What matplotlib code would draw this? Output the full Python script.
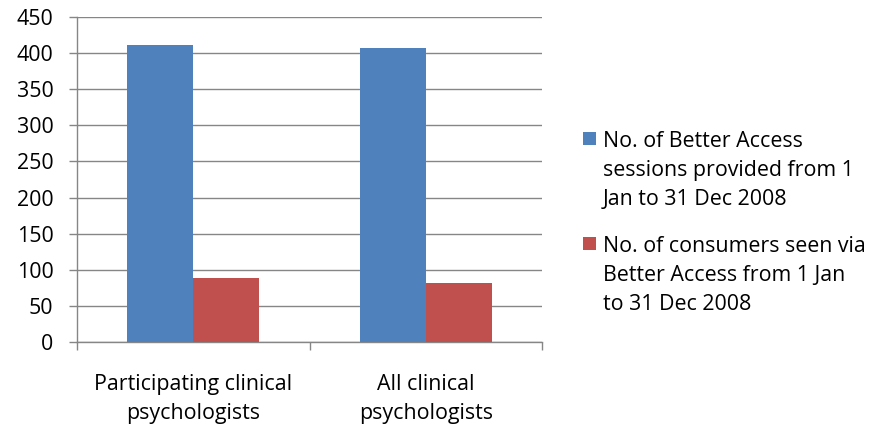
import matplotlib
matplotlib.use("Agg")
import matplotlib.pyplot as plt
from matplotlib.patches import Rectangle
import numpy as np

categories = ["Participating clinical\npsychologists", "All clinical\npsychologists"]
series_names = [
    "No. of Better Access\nsessions provided from 1\nJan to 31 Dec 2008",
    "No. of consumers seen via\nBetter Access from 1 Jan\nto 31 Dec 2008",
]
sessions = [411, 408]
consumers = [89, 81]
y_ticks = [0, 50, 100, 150, 200, 250, 300, 350, 400, 450]

colors = ["#4F81BD", "#C0504D"]
grid_color = "#868686"
FS = 15.4

plt.rcParams["font.family"] = ["Open Sans", "DejaVu Sans"]

W, H = 875, 429
fig = plt.figure(figsize=(W / 100, H / 100), dpi=100)
ax = fig.add_axes([77 / W, 1 - 341.7 / H, 465 / W, 324.4 / H])

x = np.arange(len(categories))
w = 0.284
ax.bar(x - w / 2, sessions, width=w, color=colors[0], zorder=3)
ax.bar(x + w / 2, consumers, width=w, color=colors[1], zorder=3)

ax.set_xlim(-0.5, len(categories) - 0.5)
ax.set_ylim(0, 450)
ax.set_yticks(y_ticks)
ax.tick_params(axis="y", labelsize=FS, length=5.5, width=1, color=grid_color, pad=11.5)
ax.yaxis.grid(True, color=grid_color, linewidth=1, zorder=0)
ax.set_axisbelow(True)

# Category labels centred under each group, tick marks on group boundaries
ax.set_xticks(x)
ax.set_xticklabels(categories, fontsize=FS, linespacing=1.5)
ax.tick_params(axis="x", which="major", length=0, pad=23)
ax.set_xticks(np.arange(-0.5, len(categories), 1.0), minor=True)
ax.tick_params(axis="x", which="minor", length=5.5, width=1, color=grid_color)

for side in ["top", "right"]:
    ax.spines[side].set_visible(False)
for side in ["left", "bottom"]:
    ax.spines[side].set_color(grid_color)
    ax.spines[side].set_linewidth(1)

# Legend: square swatch beside the first line of each wrapped label
entry_tops = [132.3, 237.3]
for name, col, top in zip(series_names, colors, entry_tops):
    fig.patches.append(Rectangle((583 / W, 1 - (top + 13) / H), 13 / W, 13 / H,
                                 transform=fig.transFigure, facecolor=col,
                                 edgecolor="none"))
    fig.text(603 / W, 1 - (top - 1) / H, name, fontsize=FS, va="top", ha="left",
             linespacing=1.5)

fig.savefig("out.png", dpi=100)
